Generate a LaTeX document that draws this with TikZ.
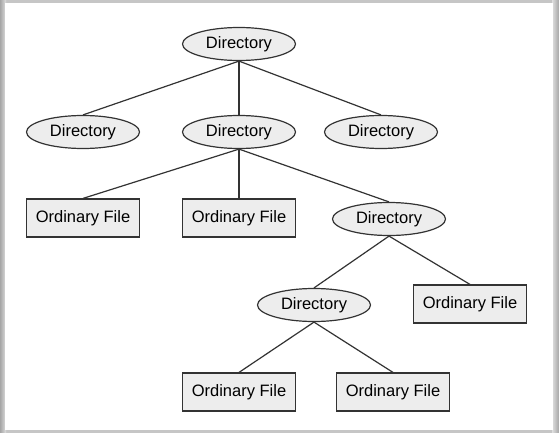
\documentclass[tikz,border=0pt]{standalone}
\usepackage{fontspec}
\setmainfont{Liberation Sans}
\usetikzlibrary{shapes.geometric}
\definecolor{nodefill}{HTML}{EDEDED}
\definecolor{edgecol}{HTML}{333333}
\tikzset{
  dirnode/.style={ellipse, draw=edgecol, fill=nodefill, line width=1.2pt, minimum width=113pt, minimum height=33pt, inner sep=0pt, font=\fontsize{16.5}{18}\selectfont},
  filenode/.style={rectangle, draw=edgecol, fill=nodefill, line width=1.2pt, minimum width=113pt, minimum height=38pt, inner sep=0pt, font=\fontsize{16.5}{18}\selectfont},
  link/.style={draw=edgecol, line width=1.2pt}
}
\begin{document}
\begin{tikzpicture}[x=1pt,y=-1pt]
\useasboundingbox (0,0) rectangle (559,433);
% frame shadow
\fill[gray!45] (0,0) rectangle (559,433);
\shade[left color=gray!70, right color=gray!25] (0,0) rectangle (6,433);
\shade[left color=gray!25, right color=gray!70] (552,0) rectangle (559,433);
\fill[white] (5,3) rectangle (553,430);
% nodes
\node[dirnode] (d0) at (239,44) {Directory};
\node[dirnode] (d1) at (83,132) {Directory};
\node[dirnode] (d2) at (239,132) {Directory};
\node[dirnode] (d3) at (381,132) {Directory};
\node[filenode] (f1) at (83,218) {Ordinary File};
\node[filenode] (f2) at (239,218) {Ordinary File};
\node[dirnode] (d4) at (389,219) {Directory};
\node[dirnode] (d5) at (314,305) {Directory};
\node[filenode] (f3) at (470,304) {Ordinary File};
\node[filenode] (f4) at (239,392) {Ordinary File};
\node[filenode] (f5) at (393,392) {Ordinary File};
% edges
\draw[link] (d0.south) -- (d1.north);
\draw[link] (d0.south) -- (d2.north);
\draw[link] (d0.south) -- (d3.north);
\draw[link] (d2.south) -- (f1.north);
\draw[link] (d2.south) -- (f2.north);
\draw[link] (d2.south) -- (d4.north);
\draw[link] (d4.south) -- (d5.north);
\draw[link] (d4.south) -- (f3.north);
\draw[link] (d5.south) -- (f4.north);
\draw[link] (d5.south) -- (f5.north);
\end{tikzpicture}
\end{document}
